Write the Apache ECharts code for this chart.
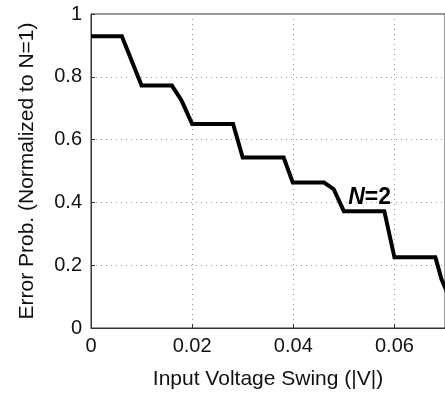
<!DOCTYPE html>
<html lang="en">
<head>
	<meta charset="UTF-8">
	<title>Error Prob.</title>
	<script src="https://cdn.jsdelivr.net/npm/echarts@6/dist/echarts.min.js"></script>
	<style>
		html, body { margin: 0; padding: 0; background: #fff; }
		#chart { width: 445px; height: 395px; }
	</style>
</head>
<body>
	<div id="chart"></div>

	<script>
		// curve (step-like descent)
		var swingV = [0, 0.0061, 0.01, 0.016, 0.0179, 0.02, 0.0281, 0.03, 0.0381, 0.0399, 0.0461, 0.048, 0.05, 0.058, 0.06, 0.0681, 0.0693, 0.0705];
		var errProb = [0.929, 0.929, 0.772, 0.772, 0.725, 0.65, 0.65, 0.543, 0.543, 0.463, 0.463, 0.442, 0.372, 0.372, 0.225, 0.225, 0.156, 0.11];

		var xTicks = [0, 0.02, 0.04, 0.06];
		var yTicks = [0, 0.2, 0.4, 0.6, 0.8, 1];

		var font = 'Liberation Sans, Arial, Helvetica, sans-serif';
		var chart = echarts.init(document.getElementById('chart'));

		var gridLine = { show: true, lineStyle: { color: '#999', type: [1, 4], width: 1 } };

		var option = {
			backgroundColor: '#fff',
			animation: false,
			grid: {
				left: 91, top: 14, width: 357, height: 315,
				show: true, borderColor: '#333', borderWidth: 1, backgroundColor: 'transparent'
			},
			xAxis: {
				type: 'value', min: 0, max: 0.07, interval: 0.02,
				name: 'Input Voltage Swing (|V|)',
				nameLocation: 'middle', nameGap: 41,
				nameTextStyle: { fontFamily: font, fontSize: 21, color: '#111' },
				axisLine: { show: true, lineStyle: { color: '#333' } },
				axisTick: { show: true, inside: true, length: 4, lineStyle: { color: '#333' } },
				splitLine: gridLine,
				axisLabel: {
					fontFamily: font, fontSize: 20, color: '#111', margin: 8, showMaxLabel: false,
					formatter: function (v) { return xTicks.indexOf(+v.toFixed(2)) >= 0 ? String(+v.toFixed(2)) : ''; }
				}
			},
			yAxis: {
				type: 'value', min: 0, max: 1, interval: 0.2,
				name: 'Error Prob. (Normalized to N=1)',
				nameLocation: 'middle', nameGap: 53,
				nameTextStyle: { fontFamily: font, fontSize: 21, color: '#111' },
				axisLine: { show: true, lineStyle: { color: '#333' } },
				axisTick: { show: true, inside: true, length: 4, lineStyle: { color: '#333' } },
				splitLine: gridLine,
				axisLabel: {
					fontFamily: font, fontSize: 20, color: '#111', margin: 9,
					formatter: function (v) { return String(+v.toFixed(1)); }
				}
			},
			series: [{
				type: 'line',
				data: swingV.map(function (x, i) { return [x, errProb[i]]; }),
				showSymbol: false,
				clip: true,
				lineStyle: { color: '#000', width: 4, join: 'miter' },
				markPoint: {
					symbol: 'circle', symbolSize: 0,
					data: [{ coord: [0.0551, 0.415] }],
					label: {
						show: true, position: 'inside',
						formatter: '{n|N}{r|=2}',
						rich: {
							n: { fontFamily: font, fontSize: 23, fontWeight: 'bold', fontStyle: 'italic', color: '#000' },
							r: { fontFamily: font, fontSize: 23, fontWeight: 'bold', color: '#000' }
						}
					}
				}
			}]
		};
		chart.setOption(option);
	</script>
</body>
</html>
